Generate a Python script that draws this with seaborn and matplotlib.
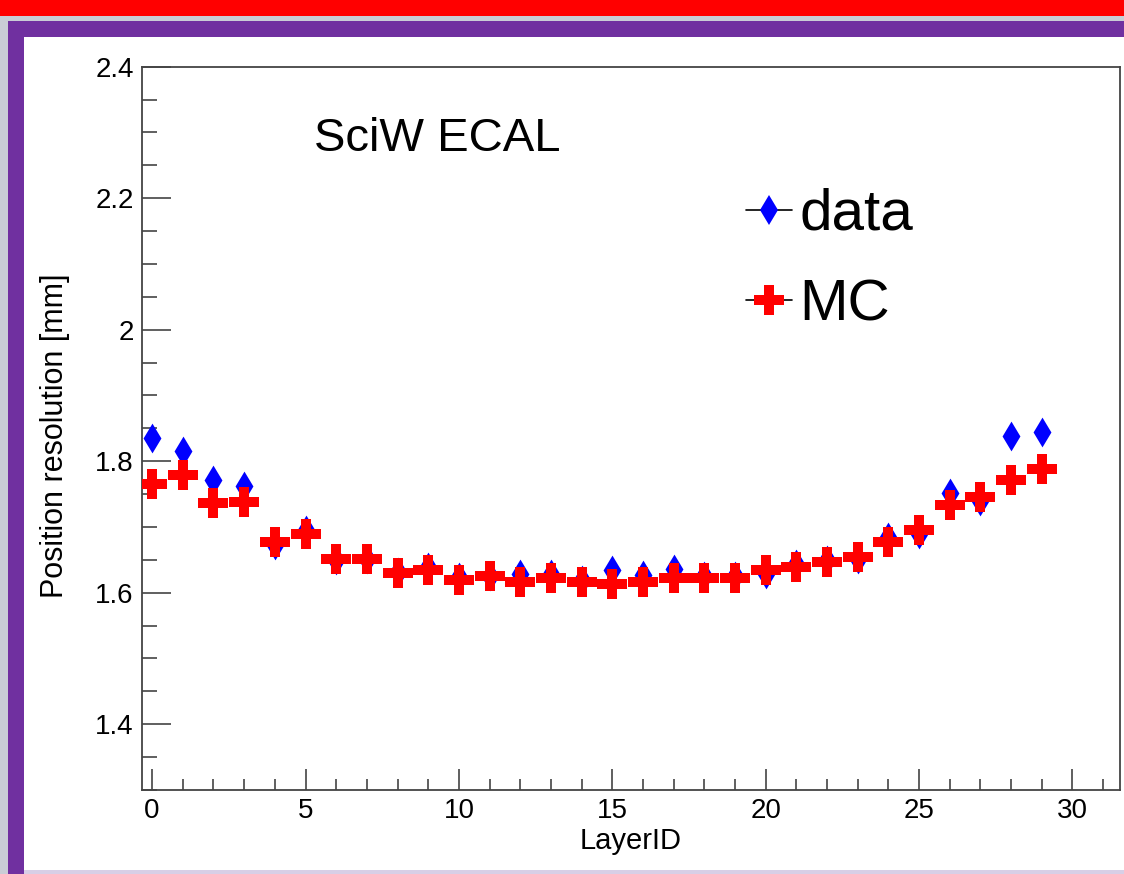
import numpy as np
import pandas as pd
import matplotlib
matplotlib.use("Agg")
import matplotlib.pyplot as plt
from matplotlib.patches import Rectangle
from matplotlib.lines import Line2D
from matplotlib.ticker import MultipleLocator
import seaborn as sns

layers = list(range(30))
data_res = [1.836, 1.816, 1.772, 1.762, 1.672, 1.695, 1.650, 1.652, 1.632, 1.639,
            1.624, 1.625, 1.629, 1.628, 1.620, 1.634, 1.627, 1.636, 1.626, 1.625,
            1.628, 1.643, 1.650, 1.652, 1.685, 1.690, 1.751, 1.739, 1.838, 1.844]
mc_res = [1.766, 1.779, 1.736, 1.738, 1.677, 1.690, 1.652, 1.652, 1.630, 1.635,
          1.619, 1.625, 1.616, 1.623, 1.617, 1.614, 1.616, 1.622, 1.622, 1.623,
          1.634, 1.639, 1.647, 1.655, 1.677, 1.695, 1.733, 1.745, 1.771, 1.788]
series_labels = ["data", "MC"]

sns.set_theme(style="white")
plt.rcParams['font.family'] = ['Liberation Sans', 'DejaVu Sans']
plt.rcParams['text.color'] = 'black'
plt.rcParams['axes.labelcolor'] = 'black'
plt.rcParams['xtick.labelcolor'] = 'black'
plt.rcParams['ytick.labelcolor'] = 'black'

fig = plt.figure(figsize=(11.24, 8.74), dpi=100)
fig.patch.set_facecolor('#c9cdd6')
W, H = 1124, 874

def frect(x0, y0, x1, y1, color):
    fig.patches.append(Rectangle((x0 / W, 1 - y1 / H), (x1 - x0) / W, (y1 - y0) / H,
                                 transform=fig.transFigure, facecolor=color,
                                 edgecolor='none', zorder=-10))

frect(0, 0, W, 16, '#ff0000')
frect(8, 21, W, H + 2, '#7030a0')
frect(24, 37, W, 870, '#ffffff')
frect(24, 870, W, H, '#d8cfe6')

ax = fig.add_axes([142 / W, 1 - 790 / H, (1120 - 142) / W, (790 - 66.7) / H])
ax.set_zorder(5)
ax.set_facecolor('white')

df = pd.DataFrame({"LayerID": layers * 2,
                   "res": data_res + mc_res,
                   "series": [series_labels[0]] * 30 + [series_labels[1]] * 30})

S_DATA, S_MC = 230, 440
sns.scatterplot(data=df[df.series == "data"], x="LayerID", y="res", marker='d',
                color='#0000ff', s=S_DATA, linewidth=0, ax=ax, legend=False, zorder=3)
sns.scatterplot(data=df[df.series == "MC"], x="LayerID", y="res", marker='P',
                color='#ff0000', s=S_MC, linewidth=0, ax=ax, legend=False, zorder=4)

ax.set_xlim(-0.33, 31.55)
ax.set_ylim(1.3, 2.4)
ax.xaxis.set_major_locator(MultipleLocator(5))
ax.xaxis.set_minor_locator(MultipleLocator(1))
ax.yaxis.set_minor_locator(MultipleLocator(0.05))
ax.set_yticks([1.4, 1.6, 1.8, 2.0, 2.2, 2.4])
ax.set_yticklabels(["1.4", "1.6", "1.8", "2", "2.2", "2.4"])

for s in ax.spines.values():
    s.set_color('#444444')
    s.set_linewidth(1.3)

ax.tick_params(axis='y', which='major', direction='in', length=21, width=1.2,
               color='#444444', labelcolor='black', labelsize=20, pad=6,
               left=True, right=False)
ax.tick_params(axis='y', which='minor', direction='in', length=10.5, width=1.2,
               color='#444444', left=True, right=False)
ax.tick_params(axis='x', which='major', direction='in', length=15, width=1.2,
               color='#444444', labelcolor='black', labelsize=20, pad=6,
               bottom=True, top=False)
ax.tick_params(axis='x', which='minor', direction='in', length=8, width=1.2,
               color='#444444', bottom=True, top=False)

ax.set_xlabel("LayerID", fontsize=21, labelpad=2, color='black')
ax.set_ylabel("Position resolution [mm]", fontsize=22, color='black')
ax.yaxis.set_label_coords(-0.074, 0.49)

ax.text(0.176, 0.90, "SciW ECAL", transform=ax.transAxes, fontsize=34,
        va='center', ha='left', color='black')

handles = [Line2D([0], [0], color='black', lw=1.2, marker='d', markersize=np.sqrt(S_DATA),
                  markerfacecolor='#0000ff', markeredgewidth=0),
           Line2D([0], [0], color='black', lw=1.2, marker='P', markersize=np.sqrt(S_MC),
                  markerfacecolor='#ff0000', markeredgewidth=0)]
leg = ax.legend(handles, series_labels, loc='upper left',
                bbox_to_anchor=((746 - 142) / 978, (790 - 188) / 723.3),
                frameon=False, fontsize=42, handlelength=0.78, handletextpad=0.13,
                labelspacing=0.62, borderpad=0, borderaxespad=0)
for t in leg.get_texts():
    t.set_color('black')

fig.savefig("out.png", dpi=100, facecolor=fig.get_facecolor())
